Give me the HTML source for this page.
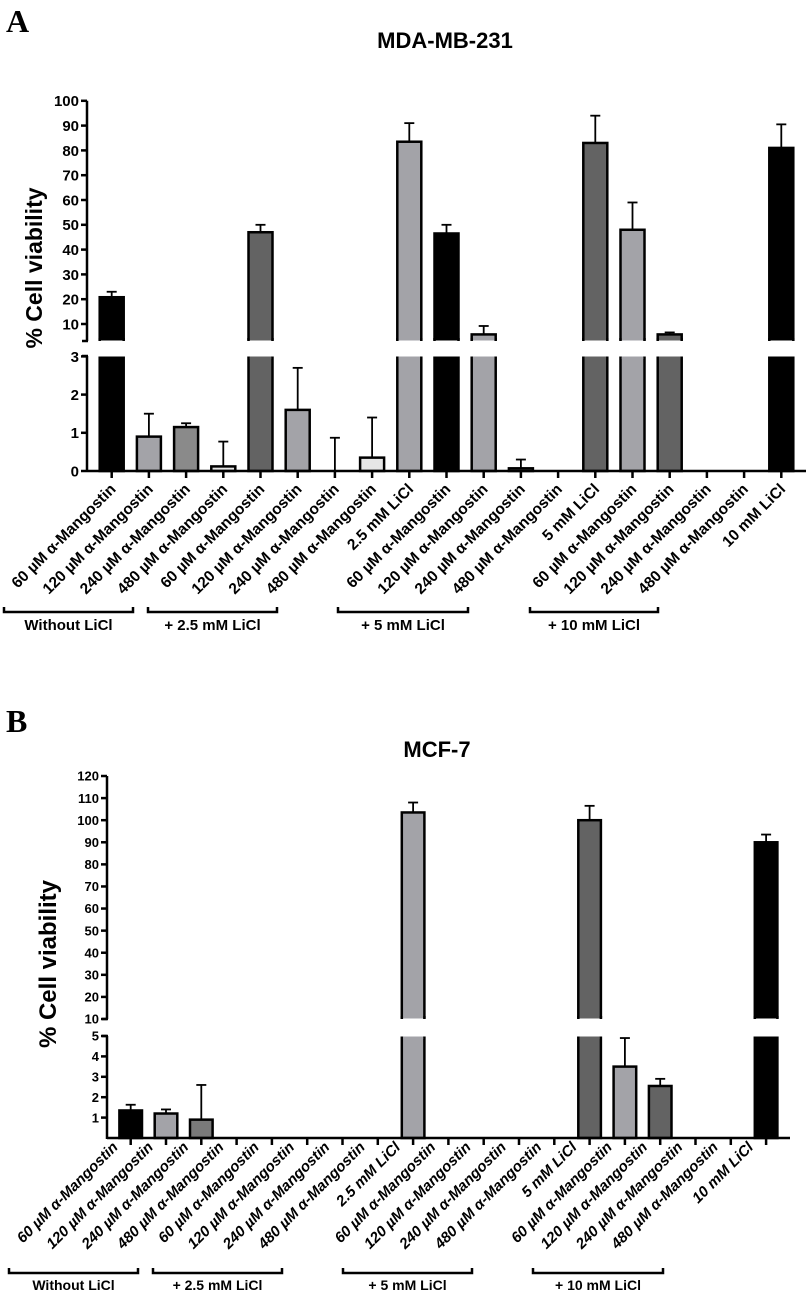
<!DOCTYPE html>
<html><head><meta charset="utf-8"><style>
html,body{margin:0;padding:0;background:#fff}
svg{display:block}
text{font-family:"Liberation Sans",Arial,sans-serif}
text.serif{font-family:"Liberation Serif","Times New Roman",serif}
</style></head><body>
<svg id="fig" width="809" height="1297" viewBox="0 0 809 1297" xmlns="http://www.w3.org/2000/svg">
<text class="serif" x="6" y="32" font-weight="bold" font-size="32">A</text>
<text x="445" y="48" text-anchor="middle" font-weight="bold" font-size="22">MDA-MB-231</text>
<text transform="translate(42,268) rotate(-90)" text-anchor="middle" font-weight="bold" font-size="23">% Cell viability</text>
<text class="serif" x="6" y="732" font-weight="bold" font-size="32">B</text>
<text x="437" y="757" text-anchor="middle" font-weight="bold" font-size="22">MCF-7</text>
<text transform="translate(56,964) rotate(-90)" text-anchor="middle" font-weight="bold" font-size="24">% Cell viability</text>
</svg>
<script>
const categories = ["60 µM α-Mangostin","120 µM α-Mangostin","240 µM α-Mangostin","480 µM α-Mangostin","60 µM α-Mangostin","120 µM α-Mangostin","240 µM α-Mangostin","480 µM α-Mangostin","2.5 mM LiCl","60 µM α-Mangostin","120 µM α-Mangostin","240 µM α-Mangostin","480 µM α-Mangostin","5 mM LiCl","60 µM α-Mangostin","120 µM α-Mangostin","240 µM α-Mangostin","480 µM α-Mangostin","10 mM LiCl"];
const groups = ["Without LiCl","+ 2.5 mM LiCl","+ 5 mM LiCl","+ 10 mM LiCl"];
const valuesA = [20.8,0.9,1.15,0.12,47,1.6,0,0.35,83.5,46.5,5.8,0.07,0,83,48,5.8,0,0,81];
const errorsA = [23,1.5,1.25,0.77,50,2.7,0.87,1.4,91,50,9.2,0.3,0,94,59,6.6,0,0,90.5];
const valuesB = [1.35,1.2,0.9,0,0,0,0,0,103.5,0,0,0,0,100,3.5,2.55,0,0,90];
const errorsB = [1.63,1.4,2.6,0,0,0,0,0,108,0,0,0,0,106.5,4.9,2.9,0,0,93.5];
const ticksAUpper = [10,20,30,40,50,60,70,80,90,100];
const ticksALower = [0,1,2,3];
const ticksBUpper = [10,20,30,40,50,60,70,80,90,100,110,120];
const ticksBLower = [1,2,3,4,5];
const fillsA = ["#000","#a3a3a8","#8a8a8a","#e6e6e6","#636363","#a3a3a8","#e6e6e6","#e6e6e6","#a3a3a8","#000","#a3a3a8","#e6e6e6","#e6e6e6","#636363","#a3a3a8","#636363","#e6e6e6","#e6e6e6","#000"];
const fillsB = ["#000","#a3a3a8","#7a7a7a","#e6e6e6","#e6e6e6","#e6e6e6","#e6e6e6","#e6e6e6","#a3a3a8","#e6e6e6","#e6e6e6","#e6e6e6","#e6e6e6","#636363","#a3a3a8","#636363","#e6e6e6","#e6e6e6","#000"];

const NS="http://www.w3.org/2000/svg";
const svg=document.getElementById('fig');
function mk(tag,attrs){const e=document.createElementNS(NS,tag);for(const k in attrs)e.setAttribute(k,attrs[k]);svg.appendChild(e);return e;}

function drawPanel(cfg){
  const P=cfg.p;
  const yL=v=>cfg.base - v*cfg.lu;
  const yU=v=>cfg.u10 - (v-10)*cfg.uu;
  const y=v=> v<=cfg.brk ? yL(v) : yU(v);
  const xC=i=>cfg.x0 + i*cfg.dx;
  cfg.vals.forEach((v,i)=>{
    const cx=xC(i), w=cfg.bw;
    if(v>0){
      if(v<=cfg.brk){
        const r=mk('rect',{x:cx-w/2,y:yL(v),width:w,height:cfg.base-yL(v),fill:cfg.fills[i],stroke:'#000','stroke-width':2.5});
        
        
      } else {
        const r1=mk('rect',{x:cx-w/2,y:cfg.lowTop,width:w,height:cfg.base-cfg.lowTop,fill:cfg.fills[i],stroke:'#000','stroke-width':2.5});
        
        
        const r2=mk('rect',{x:cx-w/2,y:yU(v),width:w,height:cfg.upBot-yU(v),fill:cfg.fills[i],stroke:'#000','stroke-width':2.5});
        
        
        mk('rect',{x:cx-w/2-2,y:cfg.upBot-0.5,width:w+4,height:cfg.lowTop-cfg.upBot+1,fill:'#fff'});
        mk('rect',{x:cx-w/2+1.25,y:cfg.upBot-3,width:w-2.5,height:2.5,fill:cfg.fills[i]});
        mk('rect',{x:cx-w/2+1.25,y:cfg.lowTop+0.5,width:w-2.5,height:2.5,fill:cfg.fills[i]});
        mk('line',{x1:cx-w/2,x2:cx-w/2,y1:cfg.upBot-3,y2:cfg.upBot,stroke:'#000','stroke-width':2.5});
        mk('line',{x1:cx+w/2,x2:cx+w/2,y1:cfg.upBot-3,y2:cfg.upBot,stroke:'#000','stroke-width':2.5});
      }
    }
    const e=cfg.errs[i];
    if(e>v){
      const g=mk('g',{stroke:'#000','stroke-width':1.8});
      
      
      const ln=document.createElementNS(NS,'line');
      ln.setAttribute('x1',cx);ln.setAttribute('x2',cx);ln.setAttribute('y1',y(v));ln.setAttribute('y2',y(e));g.appendChild(ln);
      const cp=document.createElementNS(NS,'line');
      cp.setAttribute('x1',cx-5);cp.setAttribute('x2',cx+5);cp.setAttribute('y1',y(e));cp.setAttribute('y2',y(e));g.appendChild(cp);
    }
  });
  const ax=mk('g',{stroke:'#000','stroke-width':2.5,fill:'none'});
  
  
  const add=(a)=>{const l=document.createElementNS(NS,'line');for(const k in a)l.setAttribute(k,a[k]);ax.appendChild(l);};
  add({x1:cfg.ax,x2:cfg.ax,y1:yU(cfg.uTicks[cfg.uTicks.length-1]),y2:cfg.upBot});
  add({x1:cfg.ax,x2:cfg.ax,y1:cfg.lowTop,y2:cfg.base+1});
  add({x1:cfg.ax-5,x2:cfg.ax+1,y1:cfg.upBot,y2:cfg.upBot});
  add({x1:cfg.ax-5,x2:cfg.ax+1,y1:cfg.lowTop,y2:cfg.lowTop});
  add({x1:cfg.ax,x2:cfg.axEnd,y1:cfg.base,y2:cfg.base});
  cfg.uTicks.forEach(t=>{add({x1:cfg.ax-6,x2:cfg.ax,y1:yU(t),y2:yU(t)});
    const tx=mk('text',{x:cfg.ax-8,y:yU(t)+cfg.tfs*0.36,'text-anchor':'end','font-weight':'bold','font-size':cfg.tfs});
    tx.textContent=t;
    
    });
  cfg.lTicks.forEach(t=>{add({x1:cfg.ax-6,x2:cfg.ax,y1:yL(t),y2:yL(t)});
    const tx=mk('text',{x:cfg.ax-8,y:yL(t)+cfg.tfs*0.36,'text-anchor':'end','font-weight':'bold','font-size':cfg.tfs});
    tx.textContent=t;
    
    });
  categories.forEach((c,i)=>{
    add({x1:xC(i),x2:xC(i),y1:cfg.base,y2:cfg.base+7});
    const tx=mk('text',{transform:`translate(${xC(i)+cfg.lox},${cfg.loy}) rotate(-45)`,'text-anchor':'end','font-size':cfg.lfs,'font-weight':'bold','font-style':cfg.italic?'italic':'normal'});
    tx.textContent=c;
    
    
  });
  groups.forEach((g,k)=>{
    const [a,b]=cfg.brackets[k];
    const br=mk('path',{d:`M${a} ${cfg.brY-5} V${cfg.brY} H${b} V${cfg.brY-5}`,fill:'none',stroke:'#000','stroke-width':2.5});
    
    
    const tx=mk('text',{x:(a+b)/2,y:cfg.brY+cfg.gty,'text-anchor':'middle','font-weight':'bold','font-size':cfg.gfs});
    tx.textContent=g;
    
    
  });
}
drawPanel({p:'a',vals:valuesA,errs:errorsA,fills:fillsA,base:471,lu:38.2,u10:324,uu:2.48,brk:3.05,lowTop:356,upBot:341,
  x0:111.7,dx:37.2,bw:24,ax:87,axEnd:806,uTicks:ticksAUpper,lTicks:ticksALower,tfs:15,lox:5,loy:490,lfs:15.5,italic:false,
  brackets:[[4,133],[148,277],[338,468],[530,658]],brY:612,gty:18,gfs:15});
drawPanel({p:'b',vals:valuesB,errs:errorsB,fills:fillsB,base:1138,lu:20.4,u10:1019,uu:2.209,brk:5,lowTop:1036,upBot:1019,
  x0:130.7,dx:35.3,bw:22.6,ax:107,axEnd:790,uTicks:ticksBUpper,lTicks:ticksBLower,tfs:13,lox:-12,loy:1148,lfs:15,italic:true,
  brackets:[[9,138],[153,282],[343,472],[533,663]],brY:1273,gty:17,gfs:14});
</script>
</body></html>
